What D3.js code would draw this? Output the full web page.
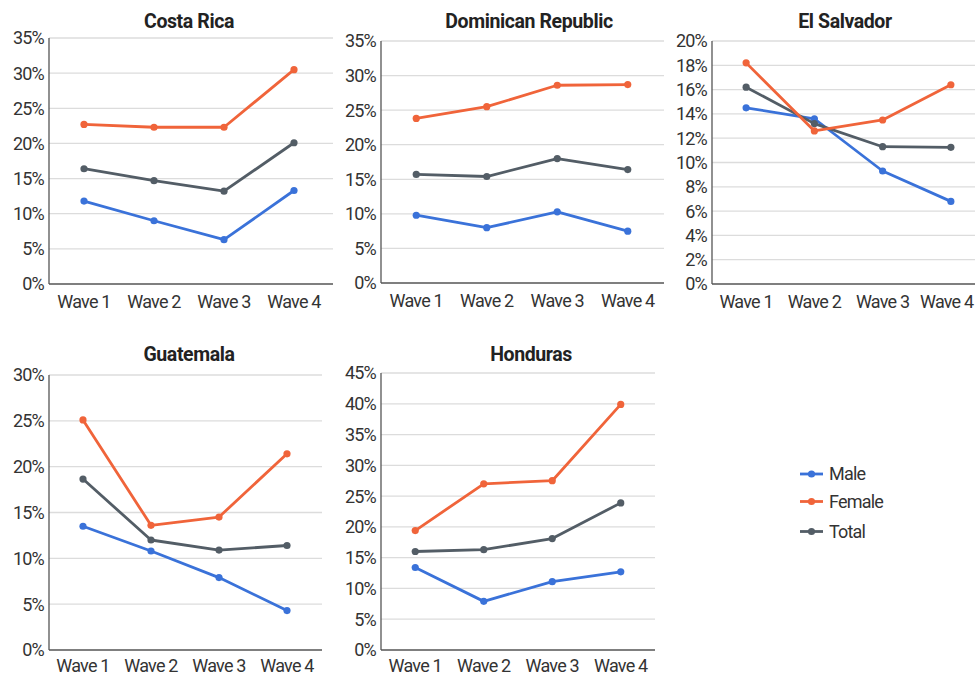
<!DOCTYPE html>
<html><head><meta charset="utf-8">
<script src="https://cdn.jsdelivr.net/npm/d3@7"></script>
<style>
html,body{margin:0;padding:0;background:#fff;}
svg{display:block;}
.tick-label{font-family:Roboto,"Liberation Sans",sans-serif;font-weight:400;font-size:18px;fill:#333;letter-spacing:-0.8px;}
.title{font-family:Roboto,"Liberation Sans",sans-serif;font-weight:700;font-size:19.5px;fill:#222;letter-spacing:-0.4px;}
</style></head>
<body>
<svg id="chart" width="975" height="677"></svg>
<script>
// ---- data ----
const waves = ["Wave 1", "Wave 2", "Wave 3", "Wave 4"];
const seriesNames = ["Male", "Female", "Total"];
const countries = ["Costa Rica", "Dominican Republic", "El Salvador", "Guatemala", "Honduras"];
const maleValues = {
  "Costa Rica": [11.8, 9.0, 6.3, 13.3],
  "Dominican Republic": [9.8, 8.0, 10.3, 7.5],
  "El Salvador": [14.5, 13.6, 9.3, 6.8],
  "Guatemala": [13.5, 10.8, 7.9, 4.3],
  "Honduras": [13.4, 7.9, 11.1, 12.7]
};
const femaleValues = {
  "Costa Rica": [22.7, 22.3, 22.3, 30.5],
  "Dominican Republic": [23.8, 25.5, 28.6, 28.7],
  "El Salvador": [18.2, 12.6, 13.5, 16.4],
  "Guatemala": [25.1, 13.6, 14.5, 21.4],
  "Honduras": [19.4, 27.0, 27.5, 39.9]
};
const totalValues = {
  "Costa Rica": [16.4, 14.7, 13.2, 20.1],
  "Dominican Republic": [15.7, 15.4, 18.0, 16.4],
  "El Salvador": [16.2, 13.2, 11.3, 11.25],
  "Guatemala": [18.65, 12.0, 10.9, 11.4],
  "Honduras": [16.0, 16.3, 18.1, 23.9]
};
const yMax = {"Costa Rica": 35, "Dominican Republic": 35, "El Salvador": 20, "Guatemala": 30, "Honduras": 45};
const yStep = {"Costa Rica": 5, "Dominican Republic": 5, "El Salvador": 2, "Guatemala": 5, "Honduras": 5};

// ---- layout ----
const W = 975;
const colors = {Male: "#3a72d9", Female: "#f0643a", Total: "#535d66"};
const layout = {
  "Costa Rica":         {left: 49,  right: 329, top: 38,  bottom: 284, gridRight: 333, tx: 189, ty: 28, xlab: 24},
  "Dominican Republic": {left: 381, right: 663, top: 41,  bottom: 283, gridRight: 664, tx: 529, ty: 28, xlab: 24},
  "El Salvador":        {left: 712, right: 985, top: 41,  bottom: 284, gridRight: 985, tx: 845, ty: 28, xlab: 24},
  "Guatemala":          {left: 49,  right: 321, top: 375, bottom: 650, gridRight: 322, tx: 189, ty: 361, xlab: 22},
  "Honduras":           {left: 381, right: 655, top: 373, bottom: 650, gridRight: 655, tx: 531, ty: 361, xlab: 22}
};

const svg = d3.select("#chart");

countries.forEach(c => {
  const L = layout[c];
  const g = svg.append("g");
  const x = d3.scaleBand().domain(waves).range([L.left, L.right]);
  const y = d3.scaleLinear().domain([0, yMax[c]]).range([L.bottom, L.top]);
  const ticks = d3.range(0, yMax[c] + 0.001, yStep[c]);

  g.selectAll(".grid").data(ticks.filter(t => t > 0)).join("line")
    .attr("x1", L.left).attr("x2", L.gridRight)
    .attr("y1", d => y(d)).attr("y2", d => y(d))
    .attr("stroke", "#dcdcdc").attr("stroke-width", 1.3);

  g.selectAll(".yl").data(ticks).join("text")
    .attr("class", "tick-label")
    .attr("x", L.left - 5).attr("y", d => y(d))
    .attr("text-anchor", "end").attr("dy", "0.36em")
    .text(d => d + "%");

  g.append("line").attr("x1", L.left).attr("x2", L.left).attr("y1", L.top).attr("y2", L.bottom)
    .attr("stroke", "#555").attr("stroke-width", 1.3);
  g.append("line").attr("x1", L.left).attr("x2", L.gridRight).attr("y1", L.bottom).attr("y2", L.bottom)
    .attr("stroke", "#555").attr("stroke-width", 1.3);

  g.selectAll(".xl").data(waves).join("text")
    .attr("class", "tick-label")
    .attr("x", d => x(d) + x.bandwidth() / 2).attr("y", L.bottom + L.xlab)
    .attr("text-anchor", "middle")
    .text(d => d)
    .each(function() {
      // keep label inside the page width
      const bb = this.getBBox();
      const over = bb.x + bb.width - (W - 1);
      if (over > 0) d3.select(this).attr("x", +d3.select(this).attr("x") - over);
    });

  g.append("text").attr("class", "title").attr("x", L.tx).attr("y", L.ty)
    .attr("text-anchor", "middle").text(c);

  const seriesData = {Male: maleValues[c], Female: femaleValues[c], Total: totalValues[c]};
  const line = d3.line().x((d, i) => x(waves[i]) + x.bandwidth() / 2).y(d => y(d));
  ["Male", "Total", "Female"].forEach(s => {
    const vals = seriesData[s];
    g.append("path").datum(vals).attr("d", line)
      .attr("fill", "none").attr("stroke", colors[s]).attr("stroke-width", 2.8)
      .attr("stroke-linejoin", "round");
    g.selectAll(".dot-" + s).data(vals).join("circle")
      .attr("cx", (d, i) => x(waves[i]) + x.bandwidth() / 2).attr("cy", d => y(d))
      .attr("r", 3.6).attr("fill", colors[s]);
  });
});

const legendY = {Male: 474, Female: 501.5, Total: 531.5};
const lg = svg.append("g");
seriesNames.forEach(s => {
  lg.append("line").attr("x1", 800).attr("x2", 823).attr("y1", legendY[s]).attr("y2", legendY[s])
    .attr("stroke", colors[s]).attr("stroke-width", 2.8);
  lg.append("circle").attr("cx", 811.5).attr("cy", legendY[s]).attr("r", 3.6).attr("fill", colors[s]);
  lg.append("text").attr("class", "tick-label").attr("x", 829).attr("y", legendY[s])
    .attr("dy", "0.36em").text(s);
});
</script>
</body></html>
